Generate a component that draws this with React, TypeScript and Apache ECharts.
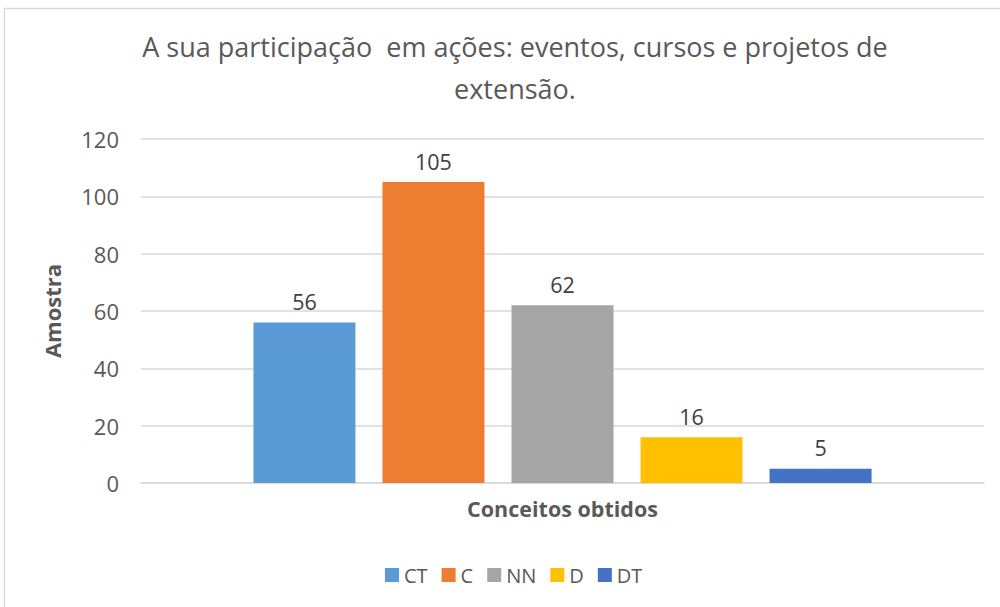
import React, { useEffect, useRef } from "react";
import * as echarts from "echarts";

const seriesNames = ["CT", "C", "NN", "D", "DT"];
const seriesValues = [56, 105, 62, 16, 5];
const seriesColors = ["#5B9BD5", "#ED7D31", "#A5A5A5", "#FFC000", "#4472C4"];
const categories = [""];
const yTicks = { min: 0, max: 120, interval: 20 };

export default function App() {
  const ref = useRef<HTMLDivElement>(null);
  useEffect(() => {
    const chart = echarts.init(ref.current!, null, { renderer: "svg" });
    const font = "'Open Sans', 'Noto Sans', sans-serif";
    chart.setOption({
      animation: false,
      backgroundColor: "#ffffff",
      textStyle: { fontFamily: font },
      title: {
        text: "A sua participação  em ações: eventos, cursos e projetos de\nextensão.",
        left: 510,
        textAlign: "center",
        top: 20,
        textStyle: {
          fontFamily: font,
          fontSize: 27,
          fontWeight: "normal",
          color: "#595959",
          lineHeight: 42,
        },
      },
      graphic: [
        {
          type: "rect",
          shape: { x: 4.5, y: 8.5, width: 1000, height: 620 },
          style: { fill: "none", stroke: "#d9d9d9", lineWidth: 1.5 },
          silent: true,
        },
      ],
      legend: {
        data: seriesNames,
        bottom: 17,
        left: 380,
        itemWidth: 14,
        itemHeight: 14,
        itemGap: 14,
        icon: "rect",
        textStyle: { fontFamily: font, fontSize: 20, color: "#595959" },
      },
      grid: { left: 141, right: 16, top: 139, bottom: 124 },
      xAxis: {
        type: "category",
        data: categories,
        name: "Conceitos obtidos",
        nameLocation: "middle",
        nameGap: 14,
        nameTextStyle: { fontFamily: font, fontSize: 21.5, fontWeight: "bold", color: "#595959" },
        axisLine: { lineStyle: { color: "#d9d9d9", width: 1.5 } },
        axisTick: { show: false },
        axisLabel: { show: false },
      },
      yAxis: {
        type: "value",
        min: yTicks.min,
        max: yTicks.max,
        interval: yTicks.interval,
        name: "Amostra",
        nameLocation: "middle",
        nameGap: 78,
        nameRotate: 90,
        nameTextStyle: { fontFamily: font, fontSize: 22, fontWeight: "bold", color: "#595959" },
        axisLine: { show: false },
        axisTick: { show: false },
        axisLabel: { fontFamily: font, fontSize: 22, color: "#595959", margin: 22 },
        splitLine: { lineStyle: { color: "#d9d9d9", width: 1.5 } },
      },
      series: seriesNames.map((name, i) => ({
        name,
        type: "bar",
        data: [seriesValues[i]],
        barWidth: 102,
        barGap: "26.5%",
        itemStyle: { color: seriesColors[i] },
        label: {
          show: true,
          position: "top",
          distance: 10,
          fontFamily: font,
          fontSize: 21.5,
          color: "#404040",
        },
      })),
    });
    return () => chart.dispose();
  }, []);
  return (
    <div
      ref={ref}
      style={{ position: "fixed", left: 0, top: 0, width: 1000, height: 607 }}
    />
  );
}
